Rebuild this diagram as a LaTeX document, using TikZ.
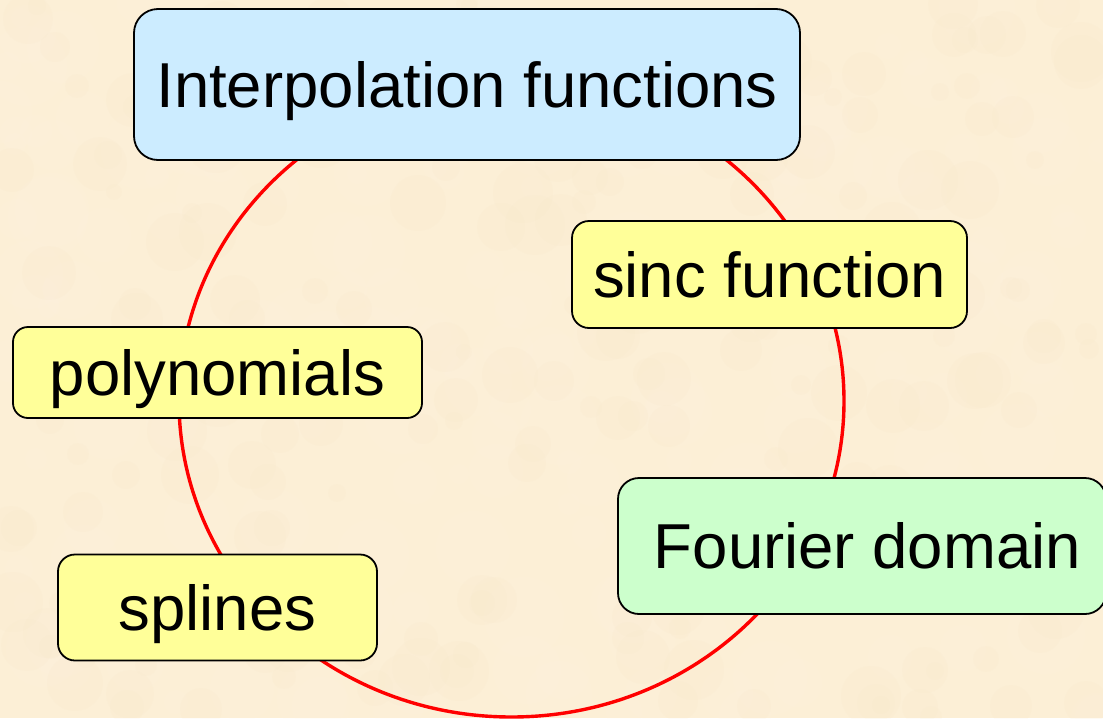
\documentclass[tikz,border=0pt]{standalone}
\usepackage{fontspec}
\setmainfont{Liberation Sans}
\definecolor{parch}{RGB}{252,239,214}
\definecolor{parchlight}{RGB}{255,246,228}
\definecolor{parchdark}{RGB}{244,228,194}
\definecolor{boxblue}{RGB}{204,236,255}
\definecolor{boxyellow}{RGB}{255,255,153}
\definecolor{boxgreen}{RGB}{204,255,204}
\definecolor{ringred}{RGB}{255,0,0}
\tikzset{
  topic/.style={draw=black, line width=1.8pt, inner sep=0pt, outer sep=0pt,
    text height=45.5pt, text depth=0pt,
    font=\fontsize{63.5}{70}\selectfont},
  ring/.style={draw=ringred, line width=3.4pt},
  blotlight/.style={fill=parchlight, opacity=0.12},
  blotdark/.style={fill=parchdark, opacity=0.10}
}
\begin{document}
\begin{tikzpicture}[x=1pt,y=-1pt]
  \fill[parch] (0,0) rectangle (1103,718);
  \useasboundingbox (0,0) rectangle (1103,718);
  % parchment mottling
  \pgfmathsetseed{7}
  \begin{scope}
    \clip (0,0) rectangle (1103,718);
    \foreach \i in {1,...,220}{
      \pgfmathsetmacro{\bx}{random(0,1103)}
      \pgfmathsetmacro{\by}{random(0,718)}
      \pgfmathsetmacro{\br}{random(10,40)}
      \fill[blotlight] (\bx,\by) circle [radius=\br];
    }
    \foreach \i in {1,...,220}{
      \pgfmathsetmacro{\bx}{random(0,1103)}
      \pgfmathsetmacro{\by}{random(0,718)}
      \pgfmathsetmacro{\br}{random(8,30)}
      \fill[blotdark] (\bx,\by) circle [radius=\br];
    }
  \end{scope}
  % ring
  \coordinate (ringc) at (511.5,401);
  \draw[ring] (ringc) ellipse [x radius=332.5, y radius=316];
  % boxes
  \node[topic, fill=boxblue, rounded corners=24pt, minimum width=666pt, minimum height=151pt]
    (interp) at (467,84.5) {Interpolation functions};
  \node[topic, fill=boxyellow, rounded corners=17pt, minimum width=395pt, minimum height=107pt]
    (sinc) at (769.5,274.5) {sinc function};
  \node[topic, fill=boxyellow, rounded corners=15pt, minimum width=409pt, minimum height=91pt]
    (poly) at (217.5,372.5) {polynomials};
  \node[topic, fill=boxgreen, rounded corners=21pt, minimum width=488pt, minimum height=136pt]
    (fourier) at (862,546) {\hspace*{11pt}Fourier domain};
  \node[topic, fill=boxyellow, rounded corners=17pt, minimum width=319pt, minimum height=106pt]
    (splines) at (217.5,607.5) {splines};
\end{tikzpicture}
\end{document}
